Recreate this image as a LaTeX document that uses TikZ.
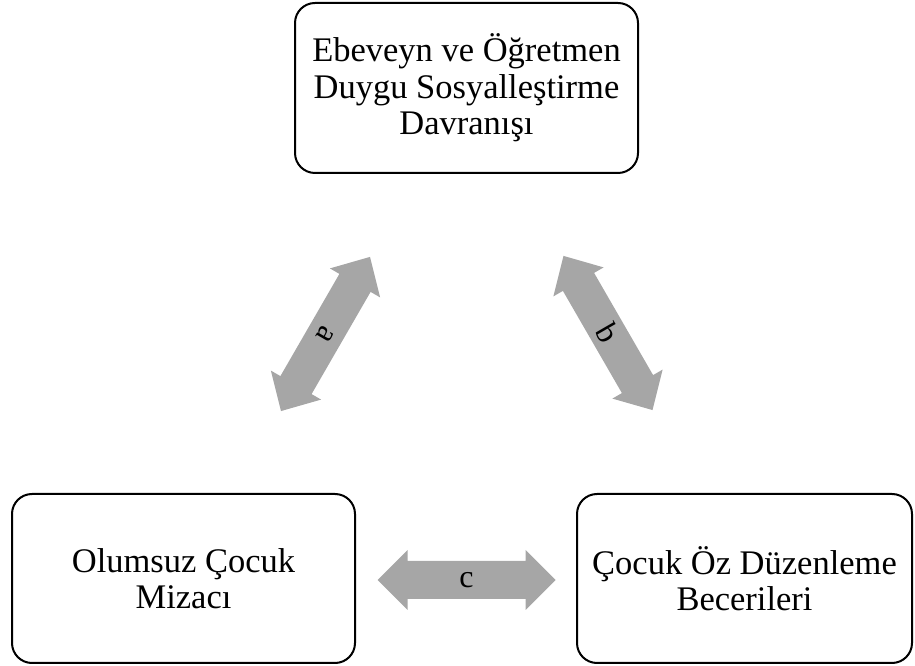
\documentclass[tikz,border=0pt]{standalone}
\usepackage{fontspec}
\setmainfont{Liberation Serif}
\definecolor{arrowgray}{RGB}{166,166,166}
\begin{document}
\begin{tikzpicture}[x=1pt,y=1pt,
  box/.style={draw=black,line width=2pt,rounded corners=20pt,align=center,
    inner sep=0pt,font=\fontsize{34.5}{36.5}\selectfont},
  lbl/.style={inner sep=0pt,font=\fontsize{32}{34}\selectfont},
  blockarrow/.style={fill=arrowgray,draw=none}]
\useasboundingbox (0,0) rectangle (915,666);
\node[box,minimum width=343pt,minimum height=170pt] (top) at (466.5,578)
  {Ebeveyn ve Öğretmen\\Duygu Sosyalleştirme\\Davranışı};
\node[box,minimum width=343pt,minimum height=169pt] (left) at (183.5,87.5)
  {Olumsuz Çocuk\\Mizacı};
\node[box,minimum width=335pt,minimum height=169pt] (right) at (744.5,87.5)
  {Çocuk Öz Düzenleme\\Becerileri};
% arrow a
\path[blockarrow,shift={(325.5,332)},rotate=60]
  (-89,0) -- (-59,29) -- (-59,18) -- (59,18) -- (59,29) -- (89,0)
  -- (59,-29) -- (59,-18) -- (-59,-18) -- (-59,-29) -- cycle;
\node[lbl,rotate=-120] (la) at (325.5,332) {a};
% arrow b
\path[blockarrow,shift={(608,333)},rotate=-60]
  (-89,0) -- (-59,29) -- (-59,18) -- (59,18) -- (59,29) -- (89,0)
  -- (59,-29) -- (59,-18) -- (-59,-18) -- (-59,-29) -- cycle;
\node[lbl,rotate=-60] (lb) at (608,333) {b};
% arrow c
\path[blockarrow,shift={(466.5,86)}]
  (-89,0) -- (-59,30) -- (-59,19) -- (59,19) -- (59,30) -- (89,0)
  -- (59,-30) -- (59,-19) -- (-59,-19) -- (-59,-30) -- cycle;
\node[lbl] (lc) at (466.5,86) {c};
\end{tikzpicture}
\end{document}
